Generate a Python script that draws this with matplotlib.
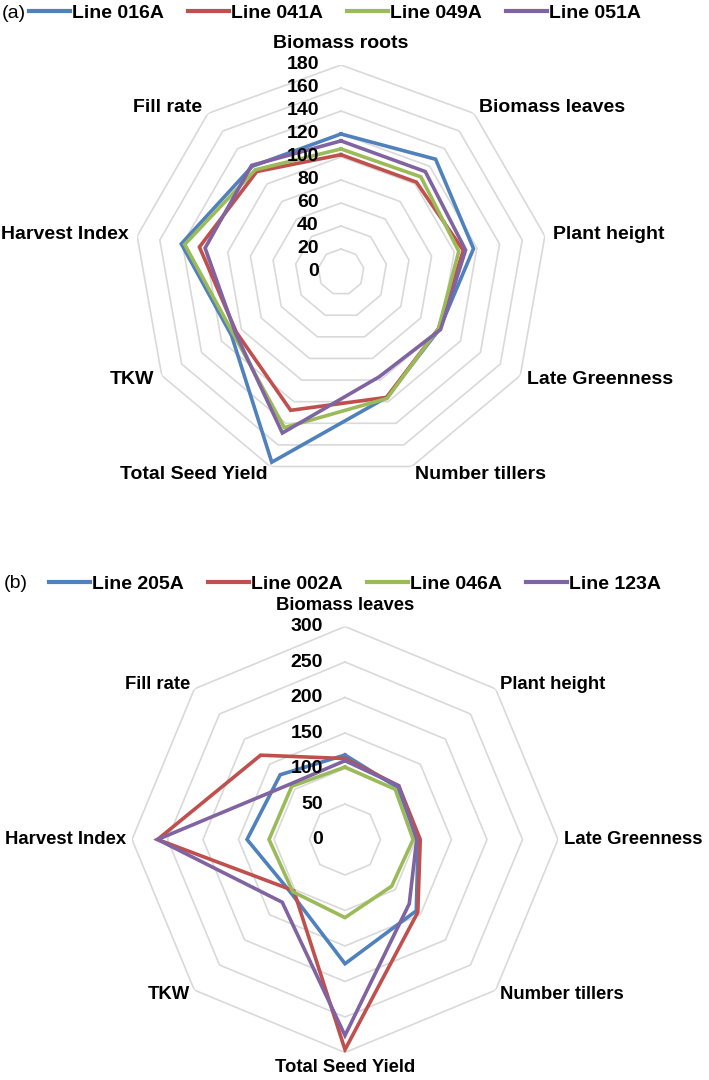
import numpy as np
import matplotlib.pyplot as plt
from matplotlib.lines import Line2D

plt.rcParams['font.family'] = ['Liberation Sans', 'DejaVu Sans']

## panel (a) data
cats_a = ['Biomass roots', 'Biomass leaves', 'Plant height', 'Late Greenness',
          'Number tillers', 'Total Seed Yield', 'TKW', 'Harvest Index', 'Fill rate']
names_a = ['Line 016A', 'Line 041A', 'Line 049A', 'Line 051A']
line_016A = [120, 128, 117, 99, 116, 176, 110, 141, 120]
line_041A = [102, 102, 108, 98, 116, 128, 105, 125, 114]
line_049A = [107, 108, 104, 98, 117, 144, 108, 138, 116]
line_051A = [114, 114, 110, 100, 97, 149, 106, 120, 121]
ticks_a = [0, 20, 40, 60, 80, 100, 120, 140, 160, 180]

## panel (b) data
cats_b = ['Biomass leaves', 'Plant height', 'Late Greenness', 'Number tillers',
          'Total Seed Yield', 'TKW', 'Harvest Index', 'Fill rate']
names_b = ['Line 205A', 'Line 002A', 'Line 046A', 'Line 123A']
line_205A = [119, 104, 103, 142, 175, 107, 138, 129]
line_002A = [114, 107, 106, 145, 296, 102, 264, 168]
line_046A = [102, 100, 96, 93, 110, 104, 107, 106]
line_123A = [111, 107, 101, 128, 276, 125, 264, 110]
ticks_b = [0, 50, 100, 150, 200, 250, 300]

colors = ['#4F81BD', '#C0504D', '#9BBB59', '#8064A2']
grid_col = '#D9D9D9'
FS = 14


def radar(fig, rect, cats, series, ticks, labsize=FS, off=6, top_off=9):
    ax = fig.add_axes(rect, projection='polar')
    ax.set_theta_zero_location('N')
    ax.set_theta_direction(-1)
    n = len(cats)
    ang = np.linspace(0, 2*np.pi, n, endpoint=False)
    ang_c = np.append(ang, ang[0])
    rmax = ticks[-1]
    ax.set_ylim(0, rmax)
    ax.grid(False)
    ax.spines['polar'].set_visible(False)
    ax.set_xticks([])
    ax.set_yticks([])
    ax.patch.set_alpha(0)

    # polygon rings (no spokes, like the excel radar)
    for v in ticks[1:]:
        ax.plot(ang_c, [v]*(n+1), color=grid_col, lw=1.2, zorder=1)

    for vals, c in zip(series, colors):
        ax.plot(ang_c, vals + vals[:1], color=c, lw=2.6, zorder=3, solid_joinstyle='miter')

    # radial tick labels left of the top vertex
    for v in ticks:
        ax.annotate(str(v), (0, v), xytext=(-16, 0), textcoords='offset points',
                    ha='right', va='center', fontsize=FS, fontweight='bold', zorder=5)

    # category labels just outside the outer ring
    for a, lab in zip(ang, cats):
        s, c = np.sin(a), np.cos(a)
        ha = 'left' if s > 0.01 else ('right' if s < -0.01 else 'center')
        o = off
        if c > 0.99:
            va = 'bottom'
            o = top_off
        elif c < -0.99:
            va = 'top'
        else:
            va = 'center'
        ax.annotate(lab, (a, rmax), xytext=(o*s, o*c), textcoords='offset points',
                    ha=ha, va=va, fontsize=labsize, fontweight='bold', annotation_clip=False)
    return ax


fig = plt.figure(figsize=(7.09, 10.8), dpi=100)

radar(fig, [134/709, 1-479/1080, 414/709, 414/1080], cats_a,
      [line_016A, line_041A, line_049A, line_051A], ticks_a)
radar(fig, [132/709, 1-1052.5/1080, 426/709, 426/1080], cats_b,
      [line_205A, line_002A, line_046A, line_123A], ticks_b, labsize=13.3, off=4.5)

## legends
def add_legend(names, x, y):
    handles = [Line2D([], [], color=c, lw=3) for c in colors]
    fig.legend(handles, names, loc='center left', bbox_to_anchor=(x/709, 1-y/1080),
               ncol=4, frameon=False, borderpad=0, borderaxespad=0,
               handlelength=2.1, handletextpad=0.1, columnspacing=1.25,
               prop={'size': FS, 'weight': 'bold'})

add_legend(names_a, 29, 13)
add_legend(names_b, 49, 584)

fig.text(2/709, 1-13/1080, '(a)', fontsize=FS, va='center', ha='left')
fig.text(4/709, 1-584/1080, '(b)', fontsize=FS, va='center', ha='left')

fig.savefig('out.png', dpi=100)
